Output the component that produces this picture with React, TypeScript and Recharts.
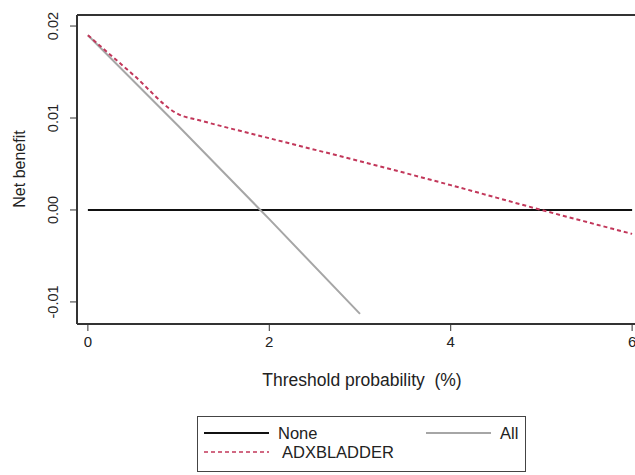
import React from 'react';
import { LineChart, Line, XAxis, YAxis, ReferenceLine } from 'recharts';

// threshold probability (%) and net benefit
const noneX = [0, 6];
const noneY = [0, 0];

const allX = [0, 1, 2, 3];
const allY = [0.019, 0.0091, -0.001, -0.0113];

const adxX = [0, 0.5, 1, 1.25, 2, 3, 4, 5, 6];
const adxY = [0.019, 0.0147, 0.0104, 0.0097, 0.0078, 0.0053, 0.0027, 0.0, -0.0026];

const xTicks = [0, 2, 4, 6];
const yTicks = [-0.01, 0, 0.01, 0.02];

const X_MIN = -0.12;
const X_MAX = 6.12;
const Y_MIN = -0.0124;
const Y_MAX = 0.0212;

const zip = (xs: number[], ys: number[]) => xs.map((x, i) => ({ x, y: ys[i] }));

const FONT = '"Liberation Sans", Arial, sans-serif';

// rotated y tick labels like the original Stata-style plot
const YTick = (props: any) => {
  const { x, y, payload } = props;
  const v = payload.value as number;
  const label = v === 0 ? '0.00' : v.toFixed(2);
  return (
    <text
      x={x - 10}
      y={y}
      transform={`rotate(-90, ${x - 10}, ${y})`}
      textAnchor="middle"
      fontSize={14.5}
      fontFamily={FONT}
      fill="#222"
    >
      {label}
    </text>
  );
};

const XTick = (props: any) => {
  const { x, y, payload } = props;
  return (
    <text x={x} y={y + 14} textAnchor="middle" fontSize={15} fontFamily={FONT} fill="#222">
      {payload.value}
    </text>
  );
};

const LegendBox = () => (
  <div
    style={{
      position: 'absolute',
      left: 197,
      top: 416,
      width: 329,
      height: 56,
      border: '1px solid #444',
      boxSizing: 'border-box',
    }}
  >
    <svg width={327} height={54} style={{ position: 'absolute', left: 0, top: 0 }}>
      <line x1={6} y1={16} x2={71} y2={16} stroke="#111" strokeWidth={2} />
      <text x={80} y={22} fontSize={16.5} fontFamily={FONT} fill="#222">None</text>
      <line x1={228} y1={16} x2={293} y2={16} stroke="#a6a6a6" strokeWidth={2} />
      <text x={302} y={22} fontSize={16.5} fontFamily={FONT} fill="#222">All</text>
      <line x1={6} y1={35} x2={71} y2={35} stroke="#c2375a" strokeWidth={1.5} strokeDasharray="4 3" />
      <text x={84} y={41} fontSize={16.5} fontFamily={FONT} fill="#222">ADXBLADDER</text>
    </svg>
  </div>
);

export default function App() {
  return (
    <div
      style={{
        position: 'absolute',
        left: 0,
        top: 0,
        width: 635,
        height: 475,
        overflow: 'hidden',
        background: '#fff',
      }}
    >
      <LineChart
        width={660}
        height={475}
        margin={{ top: 15, right: 17, left: 0, bottom: 121 }}
      >
        <XAxis
          type="number"
          dataKey="x"
          domain={[X_MIN, X_MAX]}
          ticks={xTicks}
          allowDataOverflow
          height={30}
          axisLine={{ stroke: '#333', strokeWidth: 2 }}
          tickLine={{ stroke: '#333', strokeWidth: 1 }}
          tickSize={7}
          tick={<XTick />}
        />
        <YAxis
          type="number"
          dataKey="y"
          domain={[Y_MIN, Y_MAX]}
          ticks={yTicks}
          allowDataOverflow
          width={77}
          axisLine={{ stroke: '#333', strokeWidth: 2 }}
          tickLine={{ stroke: '#333', strokeWidth: 1 }}
          tickSize={7}
          tick={<YTick />}
        />
        <ReferenceLine y={Y_MAX} stroke="#333" strokeWidth={2} />
        <Line
          data={zip(noneX, noneY)}
          dataKey="y"
          stroke="#111"
          strokeWidth={2}
          dot={false}
          isAnimationActive={false}
        />
        <Line
          data={zip(allX, allY)}
          dataKey="y"
          stroke="#a6a6a6"
          strokeWidth={2}
          dot={false}
          isAnimationActive={false}
        />
        <Line
          data={zip(adxX, adxY)}
          dataKey="y"
          type="monotone"
          stroke="#c2375a"
          strokeWidth={2}
          strokeDasharray="4 3"
          dot={false}
          isAnimationActive={false}
        />
      </LineChart>
      <div
        style={{
          position: 'absolute',
          left: 20,
          top: 169,
          transform: 'translate(-50%, -50%) rotate(-90deg)',
          fontFamily: FONT,
          fontSize: 16,
          color: '#222',
          whiteSpace: 'nowrap',
        }}
      >
        Net benefit
      </div>
      <div
        style={{
          position: 'absolute',
          left: 362,
          top: 380,
          transform: 'translate(-50%, -50%)',
          fontFamily: FONT,
          fontSize: 17.5,
          color: '#222',
          whiteSpace: 'pre',
        }}
      >
        {'Threshold probability  (%)'}
      </div>
      <LegendBox />
    </div>
  );
}
